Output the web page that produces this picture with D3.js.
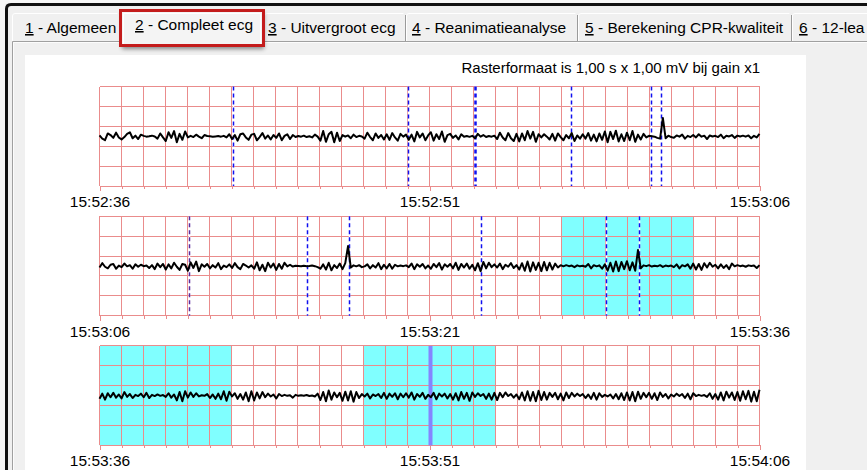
<!DOCTYPE html>
<html>
<head>
<meta charset="utf-8">
<title>Compleet ecg</title>
<script src="https://cdn.jsdelivr.net/npm/d3@7"></script>
<style>
	body { margin: 0; background: #f0f0f0; overflow: hidden; }
	svg { display: block; font-family: "Liberation Sans", Arial, sans-serif; }
	.tab text { font-size: 15.5px; fill: #000; }
	.title { font-size: 15px; fill: #000; text-anchor: end; }
	.grid line { stroke: #ea8c8c; stroke-width: 1; shape-rendering: crispEdges; }
	.trace { fill: none; stroke: #000; stroke-width: 2; stroke-linejoin: round; }
	.axis line { stroke: #ea8c8c; shape-rendering: crispEdges; }
	.axis text { font-size: 15.5px; font-family: "Liberation Sans", Arial, sans-serif; fill: #000; }
</style>
</head>
<body>
<svg width="867" height="470"></svg>
<script>
// ---- data ----
var tabLabels = ["1 - Algemeen", "2 - Compleet ecg", "3 - Uitvergroot ecg", "4 - Reanimatieanalyse", "5 - Berekening CPR-kwaliteit", "6 - 12-lea"];
var titleText = "Rasterformaat is 1,00 s x 1,00 mV bij gain x1";

// time labels under each strip (at 0, 15 and 30 s)
var tickSeconds = [0, 15, 30];
var tickLabels1 = ["15:52:36", "15:52:51", "15:53:06"];
var tickLabels2 = ["15:53:06", "15:53:21", "15:53:36"];
var tickLabels3 = ["15:53:36", "15:53:51", "15:54:06"];

// event markers, seconds from strip start; type: d = blue dashed, b = bold dashed, p = purple, s = solid band
var markers1 = [6.08, 14.02, 17.08, 21.43, 25.06, 25.52];
var markerTypes1 = ["d", "d", "b", "d", "d", "d"];
var markers2 = [4.05, 9.43, 11.32, 17.35, 23.03, 24.53];
var markerTypes2 = ["p", "d", "d", "d", "d", "d"];
var markers3 = [15];
var markerTypes3 = ["s"];

// cyan shaded intervals (seconds)
var shade1 = [];
var shade2 = [[21, 27]];
var shade3 = [[0, 6], [12, 18]];

// ecg samples, 8 per second, in 0.01 mV
var ecg1 = [
	4,-12,-20,14,6,-8,18,-6,  -16,-4,12,20,-10,3,-14,8,  2,-2,0,3,-1,-12,14,-6,
	-24,20,-8,26,-30,12,-18,24,  -6,2,-4,8,-2,-10,6,1,  0,-3,-1,1,-2,2,-6,10,
	-14,6,-22,10,14,-6,-18,8,  12,-20,-4,16,-12,4,-16,6,  -8,14,-20,2,10,-14,6,-4,
	1,-2,3,-4,0,-6,8,-2,  -22,26,-28,10,22,-30,18,-24,  6,-2,4,-10,8,-4,2,-1,
	-12,18,-4,-20,14,-8,6,-16,  10,-18,16,-6,-22,12,-2,8,  -18,8,-26,22,-6,14,-20,4,
	20,-22,10,-14,24,-28,6,12,  -8,4,-16,10,-2,1,-3,2,  -10,12,-2,6,-4,1,-2,3,
	-14,18,-6,-20,16,-10,-24,12,  -26,14,-20,26,-12,22,-28,10,  -6,10,-2,-16,12,-22,14,-4,
	-20,6,-10,16,-24,4,-12,10,  -12,16,-22,8,-26,14,-18,24,  -30,22,-14,28,-26,10,-24,18,
	-20,26,-28,8,-16,12,-6,2,  0,-2,-8,-12,92,-10,3,-4,  -8,4,-2,8,-12,2,-4,6,
	-6,10,-2,3,-14,4,-1,2,  -4,8,-10,2,-1,6,-8,3,  -1,3,-2,4,-10,2,-6,12
];
var ecg2 = [
	-8,14,-4,-12,6,10,-14,2,  -6,12,-2,4,-14,8,-4,6,  -1,2,-10,4,-16,12,-6,10,
	-18,8,-12,16,-4,-20,10,6,  -24,18,-10,22,-26,8,-4,10,  -12,4,-8,14,-16,2,-6,8,
	-10,14,-6,-16,10,2,-8,3,  -14,18,-22,6,-26,16,-8,12,  -20,10,-14,16,-2,6,-3,1,
	0,-2,1,-1,0,2,-1,-6,  -14,8,-18,16,-22,4,-10,12,  -16,14,100,-8,3,-2,4,-6,
	-2,8,-12,4,-8,14,-16,6,  -12,10,-14,6,-2,2,-1,3,  -6,12,-16,8,-4,10,-12,2,
	-14,10,-6,14,-18,8,-4,10,  -12,16,-20,10,-8,12,-14,6,  -22,14,-26,20,-12,16,-6,8,
	-8,12,-16,6,-4,14,-10,4,  -18,14,-24,22,-28,18,-20,16,  -26,20,-22,16,-18,12,-8,4,
	-2,4,-1,2,-6,3,-2,1,  -4,10,-12,4,-2,3,-14,8,  -24,16,-28,22,-26,20,-16,24,
	-22,18,-24,80,-12,3,-1,4,  -3,1,-2,4,-5,2,-1,2,  -6,8,-12,4,-2,8,-14,12,
	-18,10,-20,14,-8,16,-4,6,  -12,8,-10,4,-16,12,-2,4,  -1,2,-4,3,0,2,-10,4
];
var ecg3 = [
	-16,10,-20,12,-8,14,-10,6,  -14,18,-6,8,-12,4,-2,10,  -8,14,-12,4,-2,6,-1,3,
	-6,12,-10,6,-24,18,-28,22,  -10,16,-6,12,-4,2,-1,8,  -12,6,-16,10,-18,22,-26,20,
	-4,12,-16,8,-20,16,-28,22,  -24,16,-14,18,-8,10,-4,6,  -14,8,-2,4,-1,2,-10,4,
	-1,2,0,3,-2,1,-4,10,  -22,18,-28,26,-20,16,-8,14,  -26,20,-24,22,-30,18,-12,8,
	-4,10,-14,6,-2,8,-12,14,  -16,10,-6,12,-18,10,-8,12,  -10,16,-20,8,-6,14,-16,4,
	-8,14,-18,10,-4,10,-14,8,  -20,12,-24,18,-16,14,-26,16,  -6,12,-2,8,-16,10,-20,14,
	-22,14,-8,16,-2,8,-10,6,  -18,16,-24,22,-26,18,-28,24,  -22,18,-20,14,-6,14,-18,10,
	-24,16,-12,14,-4,10,-2,8,  -12,6,-16,14,-20,12,-6,4,  -4,6,-14,8,-18,12,-22,16,
	-24,18,-28,20,-16,14,-8,14,  -16,12,-22,16,-6,8,-14,6,  -4,10,-2,8,-12,10,-18,12,
	-2,4,-1,3,-6,12,-16,8,  -20,16,-24,20,-10,16,-22,18,  -26,22,-18,24,-30,20,-28,30
];

var strips = [
	{ ecg: ecg1, labels: tickLabels1, markers: markers1, types: markerTypes1, shade: shade1 },
	{ ecg: ecg2, labels: tickLabels2, markers: markers2, types: markerTypes2, shade: shade2 },
	{ ecg: ecg3, labels: tickLabels3, markers: markers3, types: markerTypes3, shade: shade3 }
];

// ---- window chrome ----
var svg = d3.select("svg"),
	width = +svg.attr("width"),
	height = +svg.attr("height");

var defs = svg.append("defs");
var f = defs.append("filter").attr("id", "shadow").attr("x", "-20%").attr("y", "-30%").attr("width", "140%").attr("height", "170%");
f.append("feGaussianBlur").attr("in", "SourceAlpha").attr("stdDeviation", 2.2);
f.append("feOffset").attr("dx", 1).attr("dy", 3).attr("result", "b");
f.append("feComponentTransfer").append("feFuncA").attr("type", "linear").attr("slope", 0.45);
var fm = f.append("feMerge");
fm.append("feMergeNode");
fm.append("feMergeNode").attr("in", "SourceGraphic");

svg.append("rect").attr("width", width).attr("height", height).attr("fill", "#f0f0f0");
svg.append("rect").attr("width", width).attr("height", 3.5).attr("fill", "#f7f7f7");
svg.append("rect").attr("width", 5).attr("height", height).attr("fill", "#f7f7f7");
svg.append("path")
	.attr("d", "M6.5," + height + " V9 Q6.5,4.5 11,4.5 H" + width)
	.attr("fill", "none").attr("stroke", "#111").attr("stroke-width", 3);

// panel under the tabs
svg.append("path").attr("d", "M12.5," + height + " V41.5 H" + width)
	.attr("fill", "none").attr("stroke", "#a0a0a0").attr("stroke-width", 1);
svg.append("path").attr("d", "M13.5," + height + " V42.5 H" + width)
	.attr("fill", "none").attr("stroke", "#fcfcfc").attr("stroke-width", 1);
svg.append("rect").attr("x", 25).attr("y", 55).attr("width", 781).attr("height", height - 55).attr("fill", "#fff");

// tabs
var tabEdges = [12, 120, 264, 406, 578, 792, 980];
var tabTextX = [25, 135, 268, 412, 585, 799];
var tabs = svg.append("g").attr("class", "tab");
tabLabels.forEach(function(t, i) {
	if (i == 1) return;
	var x0 = tabEdges[i] + 0.5, x1 = tabEdges[i + 1] - 0.5;
	tabs.append("path").attr("d", "M" + x0 + ",41 V16 Q" + x0 + ",13.5 " + (x0 + 2.5) + ",13.5 H" + (x1 - 2))
		.attr("fill", "none").attr("stroke", "#fff");
	tabs.append("path").attr("d", "M" + x1 + ",15 V41").attr("stroke", "#9a9a9a");
	var tx = tabs.append("text").attr("x", tabTextX[i]).attr("y", 33);
	tx.append("tspan").style("text-decoration", "underline").text(t.charAt(0));
	tx.append("tspan").text(t.slice(1));
});
// selected tab
var sel = svg.append("g").attr("class", "tab");
sel.append("rect").attr("x", 121).attr("y", 10).attr("width", 142).attr("height", 36)
	.attr("fill", "#f4f4f4").attr("filter", "url(#shadow)");
sel.append("path").attr("d", "M123.5,44 V13.5 H260.5 V44").attr("fill", "none").attr("stroke", "#fff");
var stx = sel.append("text").attr("x", tabTextX[1]).attr("y", 30);
stx.append("tspan").style("text-decoration", "underline").text(tabLabels[1].charAt(0));
stx.append("tspan").text(tabLabels[1].slice(1));
sel.append("rect").attr("x", 120.5).attr("y", 10.5).attr("width", 143).attr("height", 35)
	.attr("fill", "none").attr("stroke", "#c41c1c").attr("stroke-width", 3);

// ---- chart ----
svg.append("text").attr("class", "title").attr("x", 760).attr("y", 72.5).text(titleText);

var x = d3.scaleLinear().domain([0, 30]).range([99.5, 759.5]);
var stripHeight = 99.5, stripStep = 129.7, firstTop = 86.5;

strips.forEach(function(s, k) {
	var top = firstTop + k * stripStep;
	var y = d3.scaleLinear().domain([-2.5, 2.5]).range([top + stripHeight, top]);
	var g = svg.append("g");

	// cyan intervals
	g.selectAll(".shade").data(s.shade).enter().append("rect")
		.attr("x", function(d) { return x(d[0]); })
		.attr("width", function(d) { return x(d[1]) - x(d[0]); })
		.attr("y", y(2.5)).attr("height", y(-2.5) - y(2.5))
		.attr("fill", "#80ffff");

	// grid, 1 s x 1 mV
	var grid = g.append("g").attr("class", "grid");
	grid.selectAll(".v").data(d3.range(0, 31)).enter().append("line")
		.attr("x1", function(d) { return x(d); }).attr("x2", function(d) { return x(d); })
		.attr("y1", y(2.5)).attr("y2", y(-2.5));
	grid.selectAll(".h").data(d3.range(-2.5, 3, 1)).enter().append("line")
		.attr("x1", x(0)).attr("x2", x(30))
		.attr("y1", function(d) { return y(d); }).attr("y2", function(d) { return y(d); });

	// second ticks and time labels
	var minor = g.append("g").attr("class", "axis")
		.attr("transform", "translate(0," + y(-2.5) + ")")
		.call(d3.axisBottom(x).tickValues(d3.range(0, 31)).tickSize(3).tickFormat(""));
	minor.select(".domain").remove();
	var major = g.append("g").attr("class", "axis")
		.attr("transform", "translate(0," + y(-2.5) + ")")
		.call(d3.axisBottom(x).tickValues(tickSeconds).tickSize(5)
			.tickFormat(function(d, i) { return s.labels[i]; }));
	major.select(".domain").remove();
	major.selectAll("text").attr("y", 21).attr("dy", null);

	// event markers
	s.markers.forEach(function(m, j) {
		var t = s.types[j];
		var mx = Math.round(x(m)) + 0.5;
		if (t == "s") {
			g.append("line").attr("x1", mx).attr("x2", mx).attr("y1", y(2.5)).attr("y2", y(-2.5))
				.attr("stroke", "#8585ff").attr("stroke-width", 4);
			return;
		}
		g.append("line").attr("x1", mx).attr("x2", mx).attr("y1", y(2.5)).attr("y2", y(-2.5))
			.attr("stroke", "#fff").attr("stroke-width", t == "b" ? 2.5 : 1.5);
		g.append("line").attr("x1", mx).attr("x2", mx).attr("y1", y(2.5)).attr("y2", y(-2.5))
			.attr("stroke", t == "p" ? "#5b2a9e" : "#1010f0")
			.attr("stroke-width", t == "b" ? 2.5 : 1.5)
			.attr("stroke-dasharray", "4,3");
	});

	// ecg trace
	var n = s.ecg.length;
	var line = d3.line()
		.x(function(d, i) { return x(i * 30 / (n - 1)); })
		.y(function(d) { return y(d / 100); });
	g.append("path").datum(s.ecg).attr("class", "trace").attr("d", line);
});
</script>
</body>
</html>
